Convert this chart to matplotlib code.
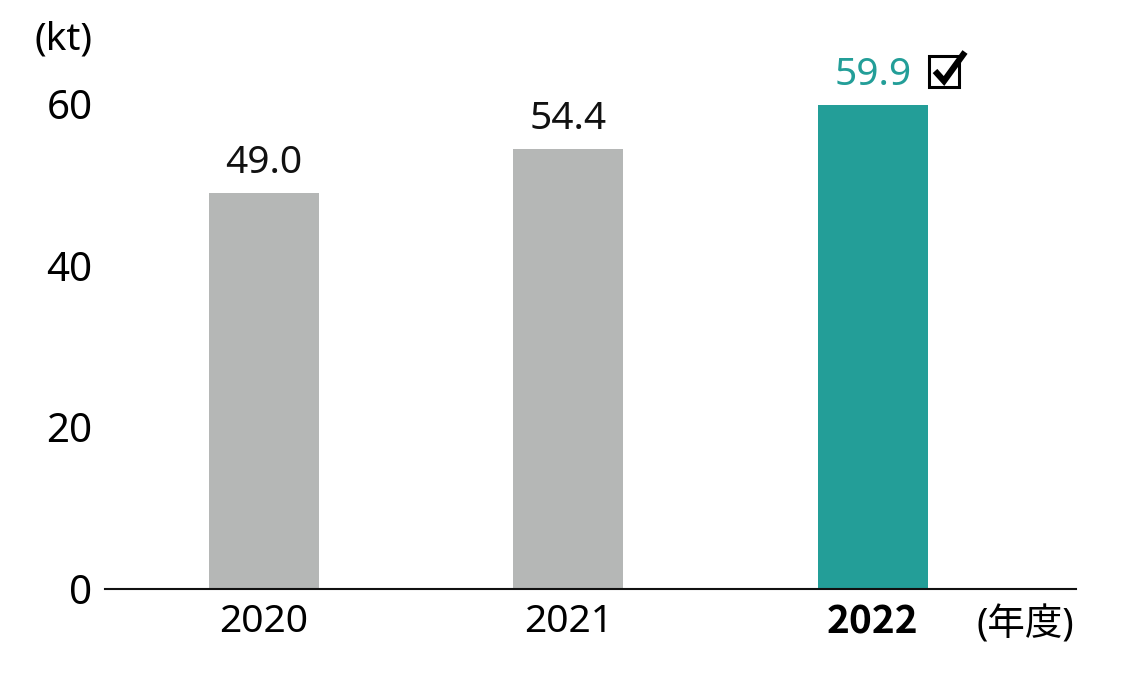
import matplotlib
matplotlib.use("Agg")
import matplotlib.pyplot as plt
from matplotlib.lines import Line2D
from matplotlib.patches import Rectangle

years = ["2020", "2021", "2022"]
values = [49.0, 54.4, 59.9]
colors = ["#b5b7b6", "#b5b7b6", "#239e98"]
label_colors = ["#111111", "#111111", "#239e98"]
yticks = [0, 20, 40, 60]

plt.rcParams["font.family"] = ["Noto Sans", "Noto Sans CJK JP", "DejaVu Sans"]

W, H = 1146, 684
fig = plt.figure(figsize=(W / 100, H / 100), dpi=100)
ax = fig.add_axes([105 / W, 95 / H, (1076 - 105) / W, 565.6 / H])

x = list(range(len(years)))
ax.bar(x, values, width=0.361, color=colors, zorder=2)
ax.set_xlim(-0.522, 2.667)
ax.set_ylim(0, 70)

for i, v in enumerate(values):
    ax.annotate(f"{v:.1f}", (i, v), xytext=(0, 14.5), textcoords="offset points",
                ha="center", va="baseline", fontsize=28, color=label_colors[i])

ax.set_yticks(yticks)
ax.set_yticklabels([str(t) for t in yticks], fontsize=29)
ax.set_xticks(x)
ax.set_xticklabels(years, fontsize=28)
last = ax.get_xticklabels()[2]
last.set_fontfamily(["Noto Sans CJK JP", "DejaVu Sans"])
last.set_fontweight("bold")
ax.tick_params(length=0)
ax.tick_params(axis="y", pad=9)
ax.tick_params(axis="x", pad=10)

for s in ["left", "right", "top"]:
    ax.spines[s].set_visible(False)
ax.spines["bottom"].set_linewidth(1.5)
ax.spines["bottom"].set_color("#111111")

fig.text(34 / W, 1 - 40 / H, "(kt)", fontsize=28, ha="left", va="center")
fig.text(1074 / W, 1 - 625 / H, "(年度)", fontsize=27, ha="right", va="center")

# checkbox next to the 2022 value
fig.add_artist(Rectangle((929 / W, 1 - 87 / H), 30 / W, 31 / H, fill=False,
                         edgecolor="black", linewidth=2.2, transform=fig.transFigure))
fig.add_artist(Line2D([935 / W, 944 / W, 965 / W], [1 - 71 / H, 1 - 81 / H, 1 - 52 / H],
                      color="black", linewidth=4.5, solid_capstyle="butt",
                      solid_joinstyle="miter", transform=fig.transFigure))

fig.savefig("out.png", dpi=100)
